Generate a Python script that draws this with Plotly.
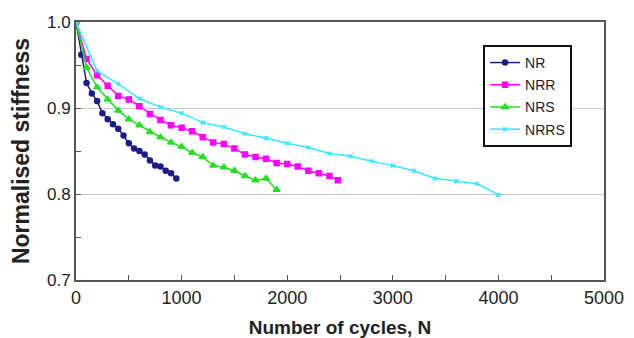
import plotly.graph_objects as go

nr_x = [0, 50, 100, 150, 200, 250, 300, 350, 400, 450, 500, 550, 600, 650, 700, 750, 800, 850, 900, 950]
nr_y = [1.0, 0.962, 0.929, 0.917, 0.908, 0.894, 0.887, 0.881, 0.876, 0.868, 0.859, 0.853, 0.850, 0.846, 0.839, 0.833, 0.832, 0.827, 0.824, 0.818]

nrr_x = [0, 100, 200, 300, 400, 500, 600, 700, 800, 900, 1000, 1100, 1200, 1300, 1400, 1500, 1600, 1700, 1800, 1900, 2000, 2100, 2200, 2300, 2400, 2480]
nrr_y = [1.0, 0.957, 0.938, 0.926, 0.914, 0.910, 0.902, 0.893, 0.886, 0.880, 0.877, 0.873, 0.866, 0.860, 0.858, 0.853, 0.846, 0.843, 0.841, 0.836, 0.835, 0.832, 0.827, 0.824, 0.821, 0.816]

nrs_x = [0, 100, 200, 300, 400, 500, 600, 700, 800, 900, 1000, 1100, 1200, 1300, 1400, 1500, 1600, 1700, 1800, 1900]
nrs_y = [1.0, 0.947, 0.924, 0.910, 0.897, 0.887, 0.880, 0.872, 0.866, 0.860, 0.855, 0.848, 0.843, 0.833, 0.831, 0.827, 0.821, 0.816, 0.818, 0.805]

nrrs_x = [0, 200, 400, 600, 800, 1000, 1200, 1400, 1600, 1800, 2000, 2200, 2400, 2600, 2800, 3000, 3200, 3400, 3600, 3800, 4000]
nrrs_y = [1.0, 0.943, 0.928, 0.911, 0.901, 0.894, 0.883, 0.878, 0.870, 0.865, 0.859, 0.854, 0.847, 0.844, 0.838, 0.833, 0.827, 0.818, 0.815, 0.812, 0.799]

series = [
    ("NR", nr_x, nr_y, "#1c1c86", "circle", 5),
    ("NRR", nrr_x, nrr_y, "#ff00ff", "square", 5),
    ("NRS", nrs_x, nrs_y, "#22e022", "triangle-up", 6),
    ("NRRS", nrrs_x, nrrs_y, "#33e8ff", "x-thin-open", 4),
]

fig = go.Figure()
for name, xs, ys, col, sym, sz in series:
    fig.add_trace(go.Scatter(
        x=xs, y=ys, name=name, mode="lines+markers", legendgroup=name,
        line=dict(color=col, width=1.5),
        marker=dict(color=col, symbol=sym, size=sz, line=dict(color=col, width=1.5)),
    ))

fam = "Arial, Liberation Sans, sans-serif"
xtick_font = dict(family=fam, size=18, color="#222")
ytick_font = dict(family=fam, size=17, color="#222")
fig.update_layout(
    width=634, height=338,
    margin=dict(l=68, r=38, t=14, b=66),
    paper_bgcolor="white", plot_bgcolor="white",
    font=dict(family=fam, size=16, color="#222"),
    showlegend=True,
    legend=dict(
        x=0.771, y=0.911, xanchor="left", yanchor="top",
        bordercolor="#111", borderwidth=2, bgcolor="white",
        font=dict(family=fam, size=14, color="#222"),
        tracegroupgap=1, itemwidth=30,
    ),
)
fig.update_xaxes(
    range=[0, 5000], dtick=1000, tick0=0, automargin=False,
    showgrid=False, zeroline=False,
    showline=True, linecolor="#555", linewidth=2, mirror=True,
    ticks="inside", ticklen=5, tickcolor="#555",
    minor=dict(dtick=500, ticks="inside", ticklen=5, tickcolor="#555"),
    title=dict(text="<b>Number of cycles, N</b>", font=dict(family=fam, size=19, color="#222"), standoff=14),
    tickfont=xtick_font,
)
fig.update_yaxes(
    range=[0.7, 1.0], dtick=0.1, tick0=0.7, tickformat=".1f", automargin=False,
    showgrid=True, gridcolor="#c8c8c8", gridwidth=1, zeroline=False,
    showline=True, linecolor="#555", linewidth=2, mirror=True,
    ticks="inside", ticklen=5, tickcolor="#555",
    minor=dict(dtick=0.05, ticks="inside", ticklen=5, tickcolor="#555", showgrid=False),
    title=dict(text="<b>Normalised stiffness</b>", font=dict(family=fam, size=23, color="#222"), standoff=14),
    tickfont=ytick_font,
)

fig.write_html("out.html")
